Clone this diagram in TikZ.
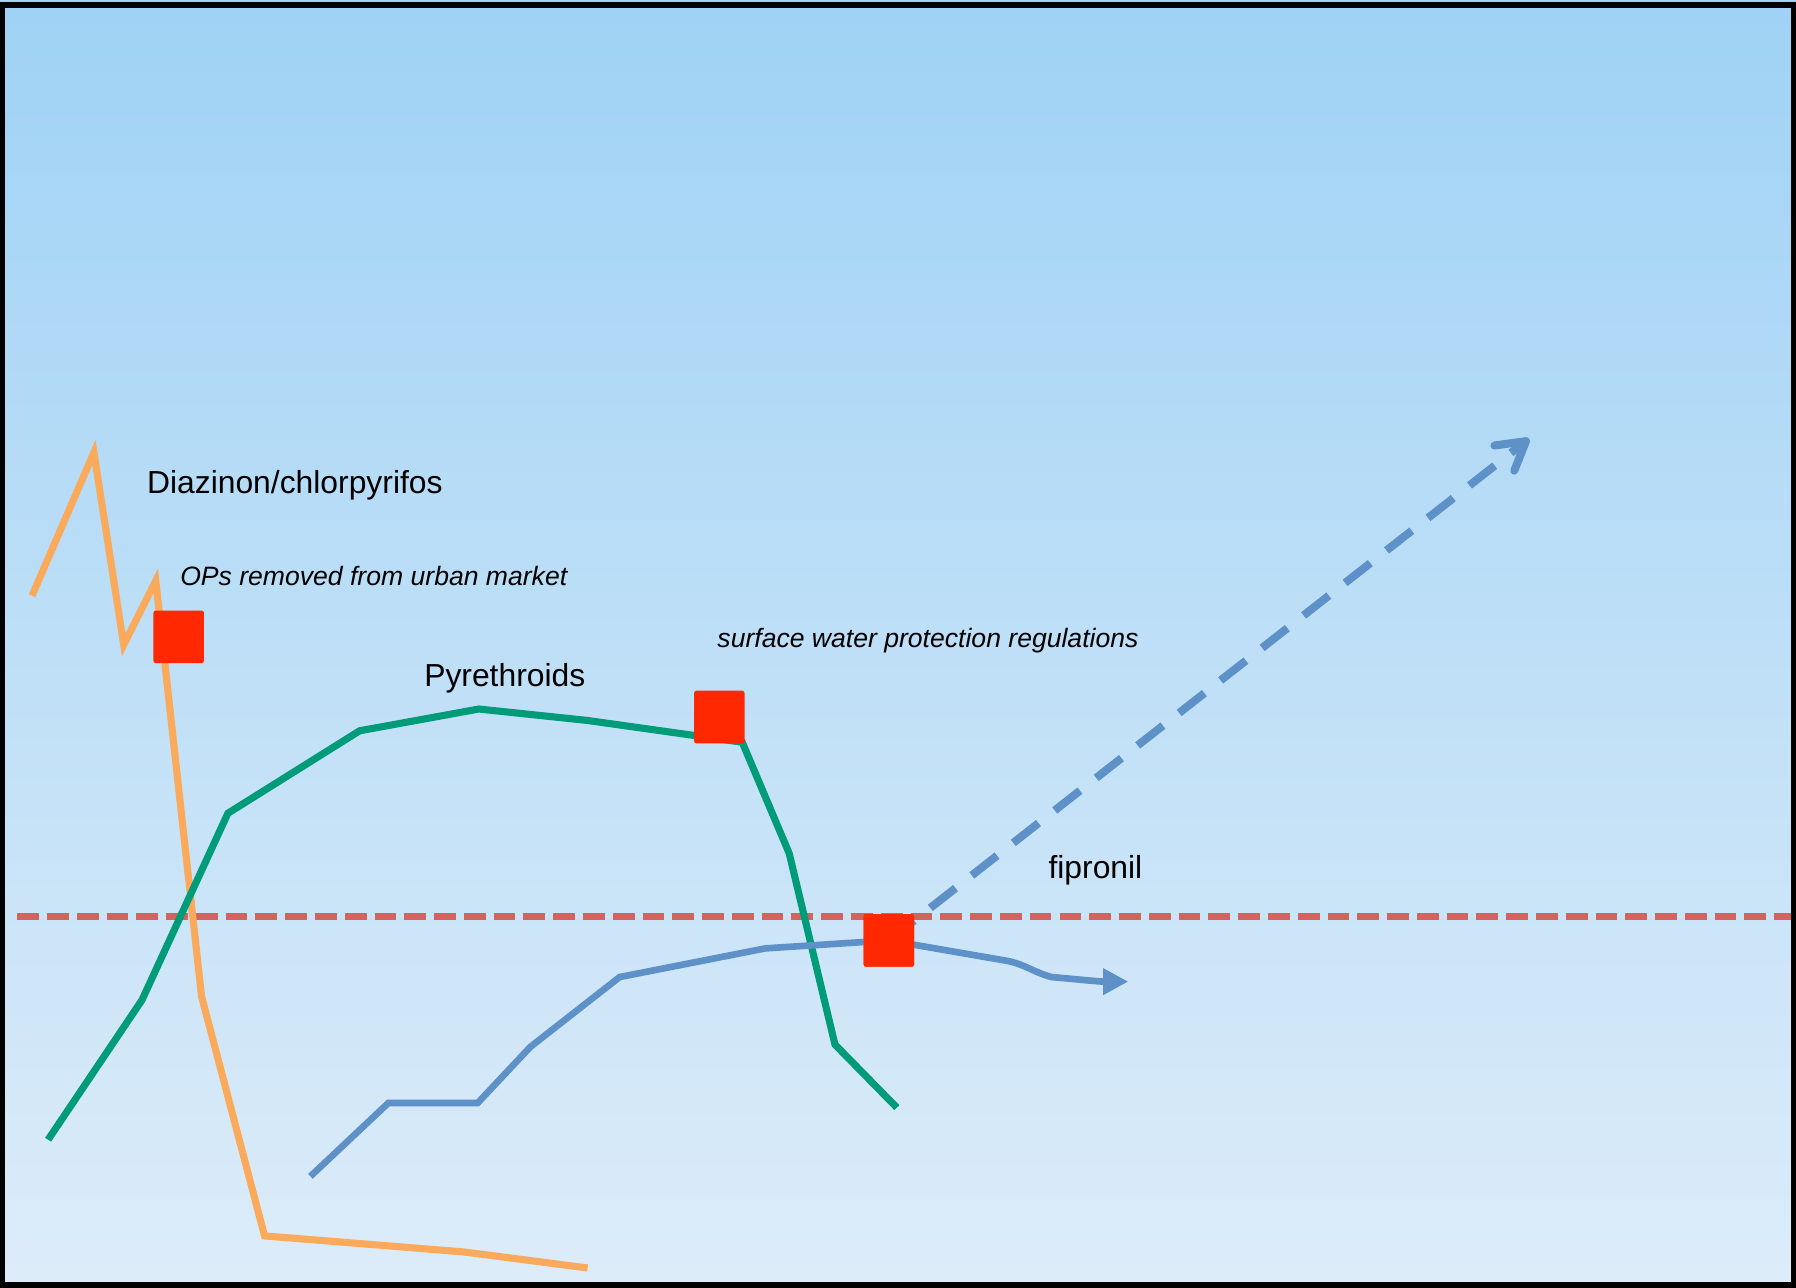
\documentclass[tikz,border=0pt]{standalone}
\usepackage{fontspec}
\setmainfont{Liberation Sans}
\usetikzlibrary{arrows.meta}
\definecolor{bgtop}{RGB}{159,210,245}
\definecolor{bgbot}{RGB}{221,236,249}
\definecolor{opcol}{RGB}{250,170,90}
\definecolor{pycol}{RGB}{0,155,120}
\definecolor{ficol}{RGB}{93,145,200}
\definecolor{thcol}{RGB}{210,100,95}
\definecolor{sqcol}{RGB}{255,40,0}
\begin{document}
\begin{tikzpicture}[x=0.5pt,y=-0.5pt,
  series/.style={line width=3.1pt,line join=miter},
  marker/.style={fill=sqcol,draw=none,rounded corners=1pt,minimum width=22pt,minimum height=23pt,inner sep=0pt},
  biglabel/.style={anchor=west,inner sep=0pt,font=\fontsize{13.9pt}{16pt}\selectfont},
  notelabel/.style={anchor=west,inner sep=0pt,font=\fontsize{11.6pt}{14pt}\selectfont\itshape}]
\useasboundingbox (0,0) rectangle (1568,1124);
\shade[top color=bgtop,bottom color=bgbot] (0,0) rectangle (1568,1124);
% threshold line
\draw[thcol,line width=3pt,dash pattern=on 9.5pt off 3.5pt] (15,800) -- (1568,800);
% Diazinon/chlorpyrifos
\draw[series,opcol] (28,520) -- (82,395) -- (108,563) -- (136,507) -- (176,870) -- (231,1079) -- (405,1093) -- (513,1107);
% Pyrethroids
\draw[series,pycol] (42,995) -- (124,873) -- (199,710) -- (314,638) -- (418,619) -- (513,629) -- (648,648) -- (689,745) -- (729,912) -- (783,967);
% fipronil
\node[marker] (sqfi) at (776,821) {};
\draw[series,ficol,line width=2.9pt] (271,1027) -- (339,963) -- (417,963) -- (463,914) -- (541,853) -- (668,828) -- (sqfi.center);
\coordinate (fiend) at (985,857);
\coordinate (trend) at (1335,383);
\draw[ficol,line width=2.9pt,-{Triangle[length=11pt,width=11pt]}] (sqfi.center) -- (880,839) to[out=-12,in=165] (918,853) to[out=-5,in=180] (fiend);
\draw[ficol,line width=3.5pt,dash pattern=on 14pt off 9pt,-{Straight Barb[length=12pt,width=14pt,round]}] (sqfi.center) -- (trend);
% markers
\node[marker] (sqop) at (156,556) {};
\node[marker] (sqpy) at (628,626) {};
\node[marker] at (776,821) {};
% labels
\node[biglabel] (lop) at (128,424) {Diazinon/chlorpyrifos};
\node[notelabel] (nop) at (157,503) {OPs removed from urban market};
\node[biglabel] (lpy) at (370,592) {Pyrethroids};
\node[notelabel] (npy) at (626,559) {surface water protection regulations};
\node[biglabel] (lfi) at (915,760) {fipronil};
% frame
\draw[black,line width=2.6pt] (1.5,4) rectangle (1566,1122);
\end{tikzpicture}
\end{document}
